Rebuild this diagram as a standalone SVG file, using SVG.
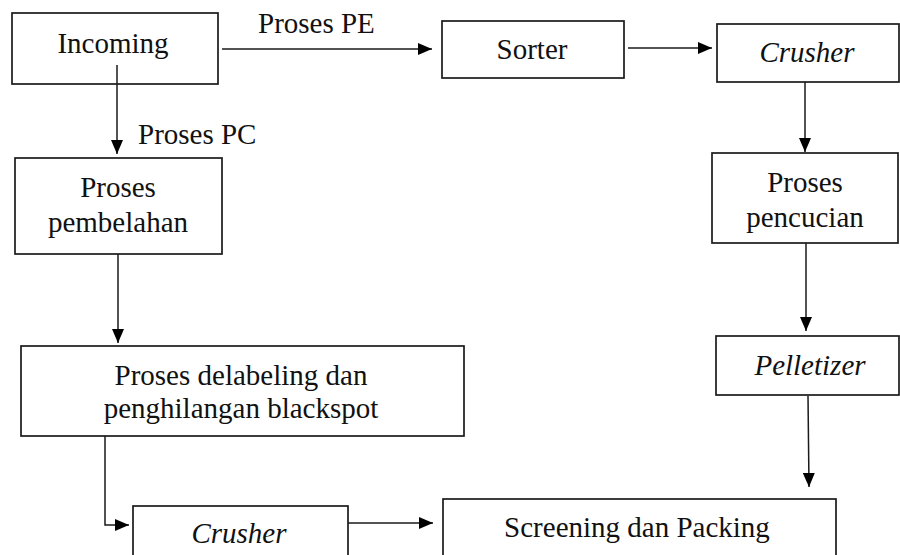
<svg xmlns="http://www.w3.org/2000/svg" width="900" height="555" viewBox="0 0 900 555">
  <style>
    .box { fill: #ffffff; stroke: #1a1a1a; stroke-width: 1.7; }
    .lbl { font-family: "Liberation Serif", "Times New Roman", serif; font-size: 29px; fill: #111111; text-anchor: middle; }
    .it { font-style: italic; }
    .edge { fill: none; stroke: #1a1a1a; stroke-width: 1.5; marker-end: url(#arrow); }
    .elabel { font-family: "Liberation Serif", "Times New Roman", serif; font-size: 29px; fill: #111111; }
  </style>
  <defs>
    <marker id="arrow" markerUnits="userSpaceOnUse" markerWidth="15" markerHeight="12" refX="14" refY="6" orient="auto">
      <path d="M0,0 L14,6 L0,12 Z" fill="#000000"/>
    </marker>
  </defs>

  <rect width="900" height="555" fill="#ffffff"/>

  <!-- process steps -->
  <g id="incoming">
    <rect class="box" x="12" y="13" width="206" height="71"/>
    <text class="lbl" x="113" y="53">Incoming</text>
  </g>
  <g id="sorter">
    <rect class="box" x="442" y="21" width="182" height="57"/>
    <text class="lbl" x="532" y="59">Sorter</text>
  </g>
  <g id="crusher-pe">
    <rect class="box" x="717" y="24" width="182" height="58"/>
    <text class="lbl it" x="807" y="62">Crusher</text>
  </g>
  <g id="pembelahan">
    <rect class="box" x="15" y="158" width="207" height="96"/>
    <text class="lbl" x="118" y="197">Proses</text>
    <text class="lbl" x="118" y="232">pembelahan</text>
  </g>
  <g id="pencucian">
    <rect class="box" x="712" y="153" width="186" height="90"/>
    <text class="lbl" x="805" y="192">Proses</text>
    <text class="lbl" x="805" y="227">pencucian</text>
  </g>
  <g id="delabeling">
    <rect class="box" x="21" y="346" width="443" height="90"/>
    <text class="lbl" x="241" y="385">Proses delabeling dan</text>
    <text class="lbl" x="241" y="418">penghilangan blackspot</text>
  </g>
  <g id="pelletizer">
    <rect class="box" x="716" y="336" width="183" height="59"/>
    <text class="lbl it" x="810" y="375">Pelletizer</text>
  </g>
  <g id="crusher-pc">
    <rect class="box" x="133" y="506" width="215" height="60"/>
    <text class="lbl it" x="239" y="543">Crusher</text>
  </g>
  <g id="screening">
    <rect class="box" x="443" y="499" width="393" height="70"/>
    <text class="lbl" x="637" y="537">Screening dan Packing</text>
  </g>

  <!-- flow lines -->
  <g id="connectors">
    <line class="edge" x1="222" y1="49" x2="432" y2="49"/>
    <text class="elabel" x="258" y="33">Proses PE</text>
    <line class="edge" x1="117" y1="65" x2="117" y2="154"/>
    <text class="elabel" x="138" y="144">Proses PC</text>
    <line class="edge" x1="628" y1="48" x2="712" y2="48"/>
    <line class="edge" x1="805" y1="82" x2="805" y2="152"/>
    <line class="edge" x1="806" y1="243" x2="806" y2="331"/>
    <line class="edge" x1="118" y1="254" x2="118" y2="343"/>
    <polyline class="edge" points="105,436 105,525 129,525"/>
    <line class="edge" x1="348" y1="523" x2="433" y2="523"/>
    <line class="edge" x1="808" y1="396" x2="809" y2="487"/>
  </g>
</svg>
